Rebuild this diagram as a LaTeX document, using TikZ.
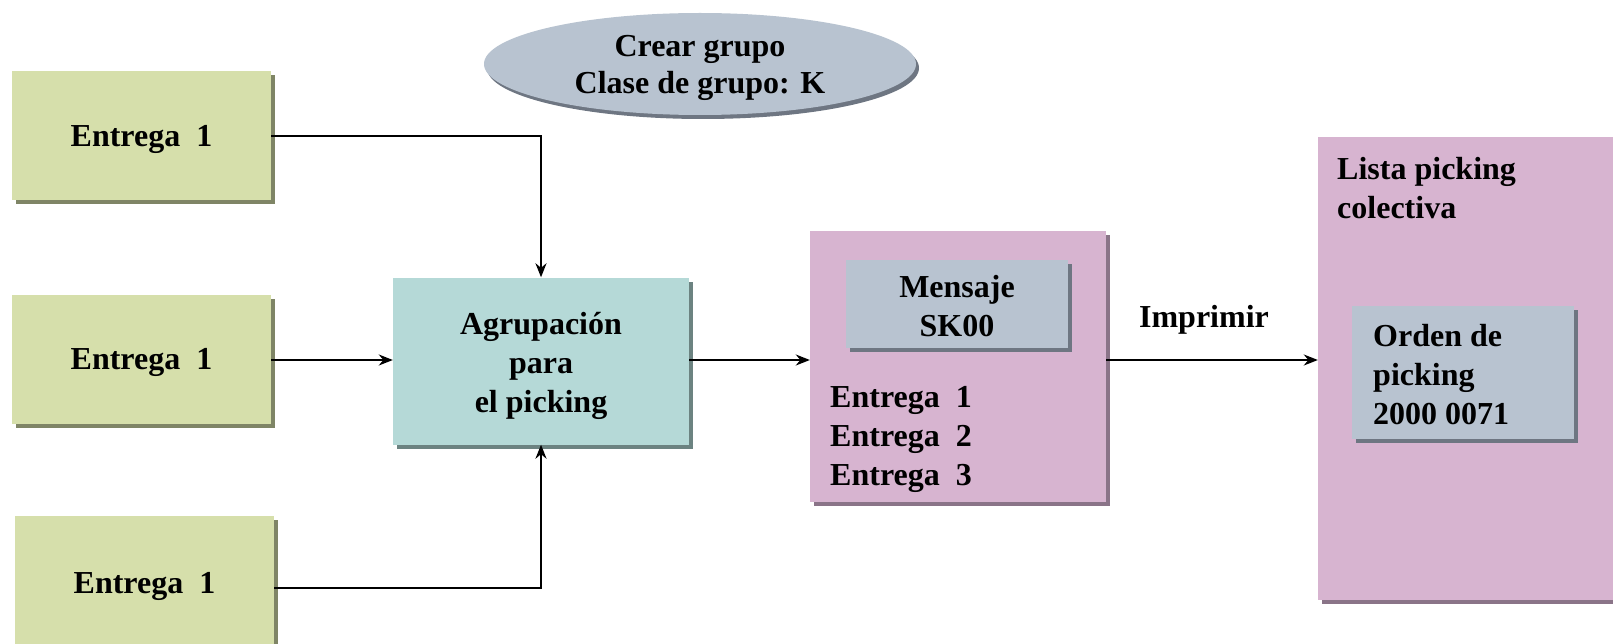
\documentclass[tikz,border=0pt]{standalone}
\usepackage{fontspec}
\setmainfont{Liberation Serif}
\usetikzlibrary{arrows.meta,shadows,shapes.geometric}
\definecolor{gfill}{HTML}{D6DFAB}
\definecolor{gshad}{HTML}{7F8566}
\definecolor{tfill}{HTML}{B5D9D7}
\definecolor{tshad}{HTML}{6C8381}
\definecolor{pfill}{HTML}{D7B4D0}
\definecolor{pshad}{HTML}{8A7488}
\definecolor{bfill}{HTML}{B8C3D0}
\definecolor{bshad}{HTML}{6E7682}
\tikzset{
  txt/.style={font=\fontsize{32}{39}\selectfont\bfseries, text=black},
  boxbase/.style={rectangle, inner sep=0pt, txt, align=center},
  gbox/.style={boxbase, fill=gfill, minimum width=259pt, minimum height=129pt, text depth=0pt,
     drop shadow={shadow xshift=4pt, shadow yshift=-4pt, fill=gshad, opacity=1}},
  tbox/.style={boxbase, fill=tfill, minimum width=296pt, minimum height=167pt,
     drop shadow={shadow xshift=4pt, shadow yshift=-4pt, fill=tshad, opacity=1}},
  pbox/.style={boxbase, fill=pfill,
     drop shadow={shadow xshift=4pt, shadow yshift=-4pt, fill=pshad, opacity=1}},
  bbox/.style={boxbase, fill=bfill,
     drop shadow={shadow xshift=4pt, shadow yshift=-4pt, fill=bshad, opacity=1}},
  conn/.style={line width=2.6pt, draw=black},
  arr/.style={conn, -{Stealth[length=14pt,width=11pt]}}
}
\begin{document}
\begin{tikzpicture}[x=1pt,y=-1pt]
\useasboundingbox (0,0) rectangle (1613,644);
% ellipse
\node[ellipse, inner sep=0pt, fill=bfill, minimum width=432pt, minimum height=102pt,
      drop shadow={shadow xshift=3pt, shadow yshift=-4pt, fill=bshad, opacity=1},
      txt, align=center] (crear) at (700,64) {};
\node[txt, align=center, inner sep=0pt] (crearTxt) at (700,68) {Crear grupo\\[-2pt]Clase de grupo: K};
% green boxes
\node[gbox] (g1) at (141.5,136) {Entrega\ \ 1};
\node[gbox] (g2) at (141.5,359) {Entrega\ \ 1};
\node[gbox, minimum height=134pt] (g3) at (144.5,583) {Entrega\ \ 1};
% teal box
\node[tbox] (teal) at (541,361) {};
\node[txt, align=center, inner sep=0pt] (tealTxt) at (541,366) {Agrupación\\para\\el picking};
% pink box 1
\node[pbox, minimum width=296pt, minimum height=271pt] (p1) at (958,366.5) {};
\node[bbox, minimum width=222pt, minimum height=88pt] (msg) at (957,304) {};
\node[txt, align=center, inner sep=0pt] (msgTxt) at (957,306) {Mensaje\\SK00};
\node[txt, align=left, anchor=west, inner sep=0pt] (list1) at (830,439) {Entrega\ \ 1\\Entrega\ \ 2\\Entrega\ \ 3};
% pink box 2
\node[pbox, minimum width=302pt, minimum height=463pt] (p2) at (1469,368.5) {};
\node[txt, align=left, anchor=north west, inner sep=0pt] (lista) at (1337,157) {Lista picking\\colectiva};
\node[bbox, minimum width=222pt, minimum height=133pt] (ord) at (1463,372.5) {};
\node[txt, align=left, anchor=west, inner sep=0pt] (ordtxt) at (1373,375) {Orden de\\picking\\2000 0071};
% label
\node[txt, inner sep=0pt] (impr) at (1204,320) {Imprimir};
% connectors
\draw[arr] (g1.east) -| (teal.north);
\draw[arr] (g3.east |- 0,588) coordinate (g3e) -| (teal.south);
\draw[arr] (g2.east |- 0,360) -- (teal.west |- 0,360);
\draw[arr] (teal.east |- 0,360) -- (p1.west |- 0,360);
\draw[arr] (p1.east |- 0,360) -- (p2.west |- 0,360);
\end{tikzpicture}
\end{document}
